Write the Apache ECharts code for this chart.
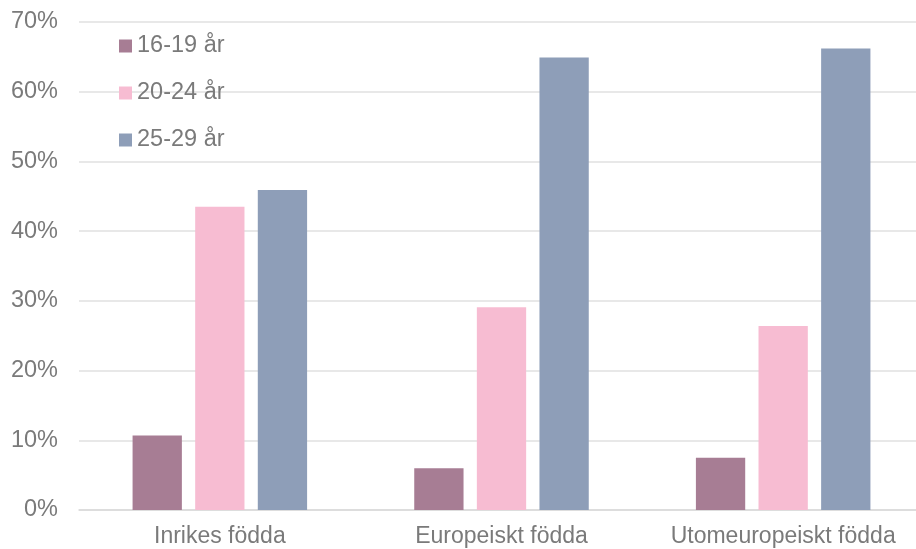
<!DOCTYPE html>
<html><head><meta charset="utf-8">
<script src="https://cdn.jsdelivr.net/npm/echarts@6/dist/echarts.min.js"></script>
<style>html,body{margin:0;padding:0;background:#fff;overflow:hidden;width:916px;height:549px}#c{width:924px;height:549px}</style>
</head><body><div id="c"></div>
<script>
const categories = ['Inrikes födda', 'Europeiskt födda', 'Utomeuropeiskt födda'];
const seriesNames = ['16-19 år', '20-24 år', '25-29 år'];
const s1619 = [10.7, 6.0, 7.5];
const s2024 = [43.5, 29.1, 26.4];
const s2529 = [45.9, 64.9, 66.2];
const colors = ['#A77D94', '#F7BCD2', '#8E9EB8'];
const values = [s1619, s2024, s2529];

const chart = echarts.init(document.getElementById('c'));
chart.setOption({
  animation: false,
  textStyle: { fontFamily: 'Liberation Sans, Arial, sans-serif' },
  grid: { left: 79, right: 0, top: 22, bottom: 39 },
  legend: {
    orient: 'vertical', left: 119, top: 34, padding: 0,
    itemWidth: 13, itemHeight: 13, itemGap: 23,
    icon: 'rect',
    textStyle: { color: '#7a7a7a', fontSize: 23.5 },
    data: seriesNames
  },
  xAxis: {
    type: 'category', data: categories,
    axisLine: { show: true, lineStyle: { color: '#d9d9d9', width: 1.5 } },
    axisTick: { show: false },
    axisLabel: { color: '#7a7a7a', fontSize: 23, margin: 15, interval: 0 }
  },
  yAxis: {
    type: 'value', min: 0, max: 70, interval: 10,
    axisLine: { show: false }, axisTick: { show: false },
    axisLabel: { color: '#7a7a7a', fontSize: 23.5, margin: 21, formatter: '{value}%' },
    splitLine: { lineStyle: { color: '#e0e0e0', width: 1.5 } }
  },
  series: values.map((v, i) => ({
    name: seriesNames[i], type: 'bar', data: v,
    barWidth: 49.3, barGap: '27%',
    itemStyle: { color: colors[i] }
  }))
});
</script></body></html>
